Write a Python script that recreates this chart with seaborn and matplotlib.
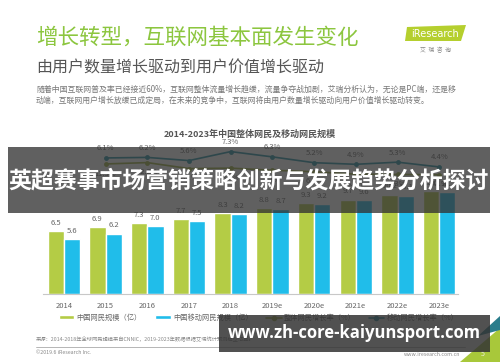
import numpy as np
import pandas as pd
import matplotlib
matplotlib.use("Agg")
import matplotlib.pyplot as plt
import seaborn as sns
from matplotlib.patches import Rectangle, Polygon, Patch
from matplotlib.lines import Line2D

# data
years = ["2014", "2015", "2016", "2017", "2018", "2019e", "2020e", "2021e", "2022e", "2023e"]
netizens = [6.5, 6.9, 7.3, 7.7, 8.3, 8.8, 9.3, 9.7, 10.2, 10.6]
mobile_netizens = [5.6, 6.2, 7.0, 7.5, 8.2, 8.7, 9.2, 9.6, 10.1, 10.5]
growth_top = [6.1, 6.2, 5.6, 7.3, 6.3, 5.2, 4.9, 5.3, 4.4]
growth_bottom = [11.3, 12.2, 8.2, 8.5, 7.1, 6.1, 4.5, 4.3, 4.1]

series_names = ["中国网民规模（亿）", "中国移动网民规模（亿）"]
line_names = ["整体网民增长率（%）", "移动网民增长率（%）"]

GREEN = "#b4cc45"
BLUE = "#20bdea"
TEAL = "#1f8ea3"
OLIVE = "#9cae3a"
GRAY = "#666666"

W, H = 500, 362


def fx(x):
    return x / W


def fy(y):
    return 1 - y / H


sns.set_style("white")
plt.rcParams["font.family"] = ["Noto Sans CJK SC", "DejaVu Sans"]

fig = plt.figure(figsize=(5, 3.62), dpi=100)
fig.patch.set_facecolor("white")

# main chart axes
ax = fig.add_axes([fx(43), fy(294), fx(458) - fx(43), (294 - 150) / H])

df = pd.DataFrame({
    "year": years * 2,
    "value": netizens + mobile_netizens,
    "series": [series_names[0]] * len(years) + [series_names[1]] * len(years),
})
sns.barplot(data=df, x="year", y="value", hue="series", palette=[GREEN, BLUE],
            width=0.78, dodge=True, ax=ax, legend=False, saturation=1)
for c in ax.containers:
    ax.bar_label(c, fmt="%.1f", padding=3, fontsize=5.5, color=GRAY)

ax.set_xlim(-0.5, 9.45)
ax.set_ylim(0, 144 / 9.74)
ax.set_xlabel(None)
ax.set_ylabel(None)
ax.set_yticks([])
ax.tick_params(axis="x", length=0, labelsize=5.5, labelcolor=GRAY, pad=6)
for s in ["top", "right", "left"]:
    ax.spines[s].set_visible(False)
ax.spines["bottom"].set_color("#c8c8c8")
ax.spines["bottom"].set_linewidth(0.8)
ax.patch.set_alpha(0)

# growth lines on their own scales
xl = np.arange(1, len(years))
ax2 = ax.twinx()
sns.lineplot(x=xl, y=growth_top, ax=ax2, color=TEAL, marker="o", markersize=3.5,
             markeredgewidth=0, linewidth=1.2)
ax2.set_ylim(-19.6, 7.6)
for x, v in zip(xl, growth_top):
    ax2.annotate(f"{v}%", (x, v), xytext=(0, 4), textcoords="offset points",
                 ha="center", va="bottom", fontsize=5.5, color=GRAY)
ax3 = ax.twinx()
sns.lineplot(x=xl, y=growth_bottom, ax=ax3, color=OLIVE, marker="o", markersize=3.5,
             markeredgewidth=0, linewidth=1.2)
ax3.set_ylim(-75.4, 20.6)
for x, v in zip(xl, growth_bottom):
    ax3.annotate(f"{v}%", (x, v), xytext=(0, -4), textcoords="offset points",
                 ha="center", va="top", fontsize=5.5, color=GRAY)
for a in (ax2, ax3):
    a.set_xlim(-0.5, 9.45)
    a.set_yticks([])
    a.set_ylabel(None)
    for s in a.spines.values():
        s.set_visible(False)

# legend below the chart
handles = [
    Patch(facecolor=GREEN, label=series_names[0]),
    Patch(facecolor=BLUE, label=series_names[1]),
    Line2D([], [], color=OLIVE, marker="o", markersize=3, lw=1.2, label=line_names[0]),
    Line2D([], [], color=TEAL, marker="o", markersize=3, lw=1.2, label=line_names[1]),
]
fig.legend(handles=handles, loc="center left", bbox_to_anchor=(fx(52), fy(318)), ncol=4,
           frameon=False, fontsize=5.2, labelcolor=GRAY, handlelength=2.2, handleheight=0.5,
           handletextpad=0.3, columnspacing=1.8)

# headings
fig.text(fx(36), fy(38), "增长转型，互联网基本面发生变化", fontsize=15.5, color="#8cc63f",
         va="center", ha="left")
fig.text(fx(36), fy(68), "由用户数量增长驱动到用户价值增长驱动", fontsize=11.5, color="#555555",
         va="center", ha="left")
fig.text(fx(36), fy(89), "随着中国互联网普及率已经接近60%，互联网整体流量增长趋缓，流量争夺战加剧，艾瑞分析认为，无论是PC端，还是移",
         fontsize=5.7, color="#777777", va="center", ha="left")
fig.text(fx(36), fy(100), "动端，互联网用户增长放缓已成定局，在未来的竞争中，互联网将由用户数量增长驱动向用户价值增长驱动转变。",
         fontsize=5.7, color="#777777", va="center", ha="left")
fig.text(fx(250), fy(134), "2014-2023年中国整体网民及移动网民规模", fontsize=6.5, color="#555555",
         fontweight="bold", va="center", ha="center")

# logo
fig.add_artist(Polygon([(fx(407), fy(27)), (fx(466), fy(25)), (fx(461), fy(41)), (fx(405), fy(41))],
                       closed=True, transform=fig.transFigure, facecolor="#b5cf2e", edgecolor="none"))
fig.text(fx(435), fy(34), "iResearch", fontsize=7, color="white", ha="center", va="center",
         family=["DejaVu Sans"])
fig.text(fx(435), fy(50), "艾  瑞  咨  询", fontsize=4.2, color="#888888", ha="center", va="center")

# footer
fig.text(fx(36), fy(339), "来源：2014-2018年全球网民规模来自CNNIC，2019-2023年数据根据艾瑞统计预测模型估算。",
         fontsize=3.8, color="#888888", va="center", ha="left")
fig.add_artist(Line2D([fx(36), fx(465)], [fy(347), fy(347)], transform=fig.transFigure,
                      color="#aaaaaa", lw=0.6))
fig.text(fx(36), fy(353), "©2019.6 iResearch Inc.", fontsize=3.8, color="#888888", va="center", ha="left")
fig.text(fx(460), fy(354), "www.iresearch.com.cn", fontsize=3.8, color="#888888", va="center", ha="right")
fig.add_artist(Polygon([(fx(460), fy(362)), (fx(500), fy(328)), (fx(500), fy(362))], closed=True,
                       transform=fig.transFigure, facecolor="#a8c83a", edgecolor="none", zorder=5))
fig.add_artist(Polygon([(fx(478), fy(336)), (fx(500), fy(316)), (fx(500), fy(330))], closed=True,
                       transform=fig.transFigure, facecolor="#2a7d8c", edgecolor="none", zorder=5))
fig.text(fx(483), fy(354), "5", fontsize=5, color="#f0f0e0", va="center", ha="center", zorder=6)

# overlay banner
fig.add_artist(Rectangle((fx(8), fy(213)), fx(490) - fx(8), (213 - 147) / H, transform=fig.transFigure,
                         facecolor="#333333", alpha=0.78, edgecolor="none", zorder=10))
fig.text(fx(249), fy(181), "英超赛事市场营销策略创新与发展趋势分析探讨", fontsize=16.5, color="white",
         fontweight="bold", ha="center", va="center", zorder=11)

# watermark box
fig.add_artist(Rectangle((fx(219), fy(352)), fx(490) - fx(219), (352 - 315) / H,
                         transform=fig.transFigure, facecolor="#333333", alpha=0.85,
                         edgecolor="none", zorder=10))
fig.text(fx(354), fy(333), "www.zh-core-kaiyunsport.com", fontsize=12, color="white",
         fontweight="bold", ha="center", va="center", zorder=11, family=["Open Sans", "DejaVu Sans"])

fig.savefig("out.png", dpi=100)
